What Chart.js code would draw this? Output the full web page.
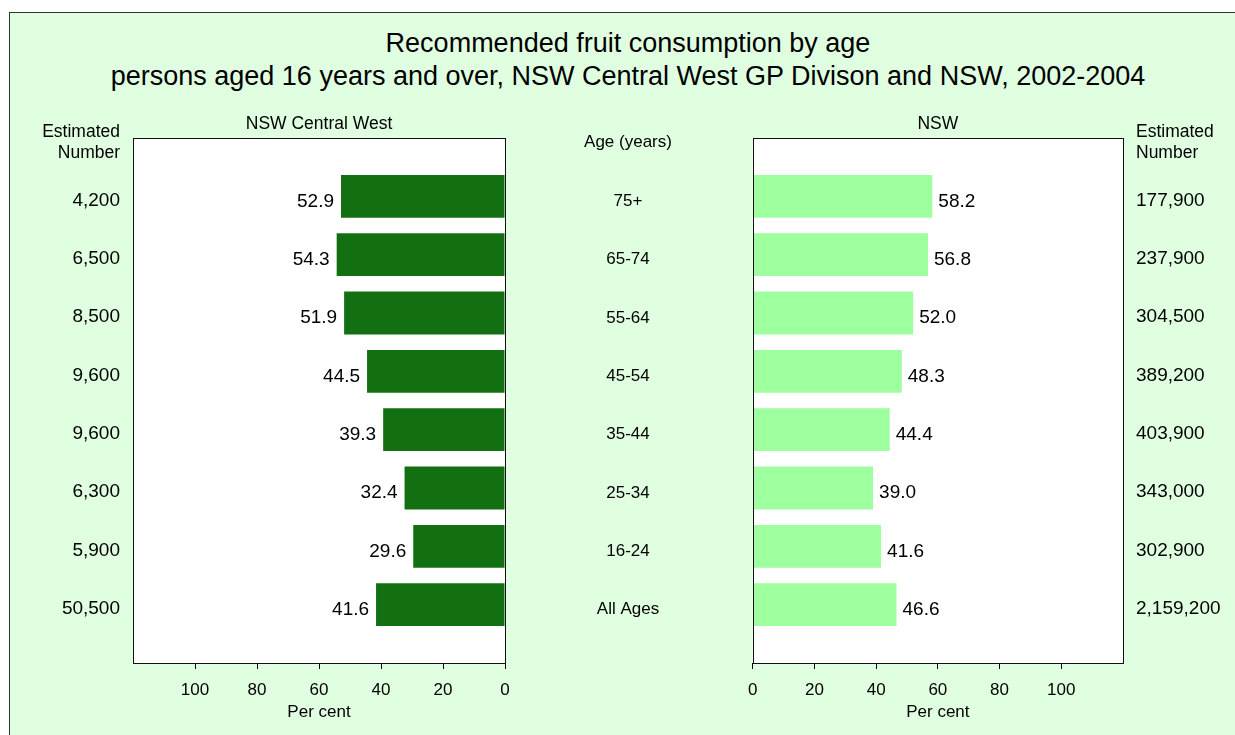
<!DOCTYPE html>
<html>
<head>
    <title>Recommended fruit consumption by age</title>
    <script src="https://cdn.jsdelivr.net/npm/chart.js"></script>
    <style>
        body { margin: 0; background: #fff; font-family: "Liberation Sans", Arial, sans-serif; }
        #frame { position: absolute; left: 9px; top: 12px; width: 1250px; height: 740px; border: 1px solid #333; background: #e0ffe0; }
        #title { position: absolute; left: 0; top: 27px; width: 1256px; text-align: center; font-size: 27px; line-height: 33px; color: #000; }
        #leftChart { position: absolute; left: 0; top: 0; }
        #rightChart { position: absolute; left: 737px; top: 0; }
    </style>
</head>
<body>
    <div id="frame"></div>
    <div id="title">Recommended fruit consumption by age<br>persons aged 16 years and over, NSW Central West GP Divison and NSW, 2002-2004</div>
    <canvas id="leftChart" width="740" height="735"></canvas>
    <canvas id="rightChart" width="498" height="735"></canvas>
    <script>
        const ageGroups = ['75+', '65-74', '55-64', '45-54', '35-44', '25-34', '16-24', 'All Ages'];
        const centralWestPct = [52.9, 54.3, 51.9, 44.5, 39.3, 32.4, 29.6, 41.6];
        const nswPct = [58.2, 56.8, 52.0, 48.3, 44.4, 39.0, 41.6, 46.6];
        const centralWestNumber = ['4,200', '6,500', '8,500', '9,600', '9,600', '6,300', '5,900', '50,500'];
        const nswNumber = ['177,900', '237,900', '304,500', '389,200', '403,900', '343,000', '302,900', '2,159,200'];
        const xTicks = [0, 20, 40, 60, 80, 100];

        Chart.defaults.font.family = '"Liberation Sans", Arial, sans-serif';
        Chart.defaults.color = '#000';
        Chart.defaults.animation = false;

        const labelFont = '19px "Liberation Sans", Arial, sans-serif';
        const headFont = '17.5px "Liberation Sans", Arial, sans-serif';
        const ageFont = '17px "Liberation Sans", Arial, sans-serif';
        const rowShift = 4; // row texts sit a little below the bar centre

        // white plot area with a frame, bar value labels and headings
        const plotBox = {
            id: 'plotBox',
            beforeDatasetsDraw(chart) {
                const a = chart.chartArea, ctx = chart.ctx;
                ctx.save();
                ctx.fillStyle = '#fff';
                ctx.fillRect(a.left, a.top, a.right - a.left, a.bottom - a.top);
                ctx.restore();
            },
            afterDatasetsDraw(chart, args, opts) {
                const a = chart.chartArea, ctx = chart.ctx;
                ctx.save();
                ctx.strokeStyle = '#111';
                ctx.lineWidth = 1;
                ctx.strokeRect(Math.round(a.left) + 0.5, Math.round(a.top) + 0.5, Math.round(a.right - a.left), Math.round(a.bottom - a.top));
                // value labels at bar ends
                ctx.font = labelFont;
                ctx.fillStyle = '#000';
                ctx.textBaseline = 'middle';
                const meta = chart.getDatasetMeta(0);
                const values = chart.data.datasets[0].data;
                meta.data.forEach((bar, i) => {
                    const txt = values[i].x.toFixed(1);
                    if (opts.side === 'left') {
                        ctx.textAlign = 'right';
                        ctx.fillText(txt, bar.x - 7, bar.y + rowShift + 1);
                    } else {
                        ctx.textAlign = 'left';
                        ctx.fillText(txt, bar.x + 6, bar.y + rowShift + 1);
                    }
                });
                // headings
                ctx.font = headFont;
                const mid = (a.left + a.right) / 2;
                ctx.textAlign = 'center';
                ctx.fillText(opts.heading, mid, 124);
                if (opts.side === 'left') {
                    // age group column between the two panels
                    const yScale = chart.scales.yNum;
                    ctx.font = ageFont;
                    ctx.fillText('Age (years)', 628, 142);
                    ageGroups.forEach((g, i) => {
                        ctx.fillText(g, 628, yScale.getPixelForValue(i + 1) + rowShift + 1);
                    });
                    ctx.font = headFont;
                    ctx.textAlign = 'right';
                    ctx.fillText('Estimated', 120, 132);
                    ctx.fillText('Number', 120, 153);
                } else {
                    ctx.textAlign = 'left';
                    ctx.fillText('Estimated', a.right + 13, 132);
                    ctx.fillText('Number', a.right + 13, 153);
                }
                ctx.restore();
            }
        };

        function makeChart(id, side, pct, numbers, colour, heading) {
            const data = pct.map((v, i) => ({ x: v, y: i + 1 }));
            return new Chart(document.getElementById(id), {
                type: 'bar',
                data: {
                    datasets: [{
                        data: data,
                        yAxisID: 'yNum',
                        backgroundColor: colour,
                        borderWidth: 0,
                        categoryPercentage: 1,
                        barPercentage: 0.735
                    }]
                },
                options: {
                    indexAxis: 'y',
                    responsive: false,
                    layout: { padding: { left: side === 'left' ? 0 : 12, top: 138, bottom: 12, right: side === 'left' ? 235 : 0 } },
                    scales: {
                        x: {
                            type: 'linear',
                            reverse: side === 'left',
                            min: 0,
                            max: 120,
                            afterBuildTicks: s => { s.ticks = xTicks.map(v => ({ value: v })); },
                            afterFit: s => { s.height = 60; },
                            grid: { drawOnChartArea: false, drawTicks: true, tickLength: 6, color: '#000' },
                            border: { display: false },
                            ticks: { autoSkip: false, maxRotation: 0, padding: 11, font: { size: 17 } },
                            title: { display: true, text: 'Per cent', font: { size: 17 }, padding: { top: 0, bottom: 0 } }
                        },
                        yNum: {
                            type: 'linear',
                            axis: 'y',
                            position: side,
                            reverse: true,
                            offset: false,
                            min: 0,
                            max: 9,
                            afterBuildTicks: s => { s.ticks = numbers.map((_, i) => ({ value: i + 1 })); },
                            afterFit: s => { s.width = side === 'left' ? 133 : 112; },
                            grid: { display: false, drawTicks: false, offset: false },
                            border: { display: false },
                            ticks: {
                                padding: 13,
                                crossAlign: 'near',
                                labelOffset: rowShift,
                                font: { size: 19 },
                                callback: v => numbers[v - 1]
                            }
                        }
                    },
                    plugins: {
                        legend: { display: false },
                        tooltip: { enabled: false },
                        plotBox: { side: side, heading: heading }
                    }
                },
                plugins: [plotBox]
            });
        }

        makeChart('leftChart', 'left', centralWestPct, centralWestNumber, '#127012', 'NSW Central West');
        makeChart('rightChart', 'right', nswPct, nswNumber, '#9eff9e', 'NSW');
    </script>
</body>
</html>
